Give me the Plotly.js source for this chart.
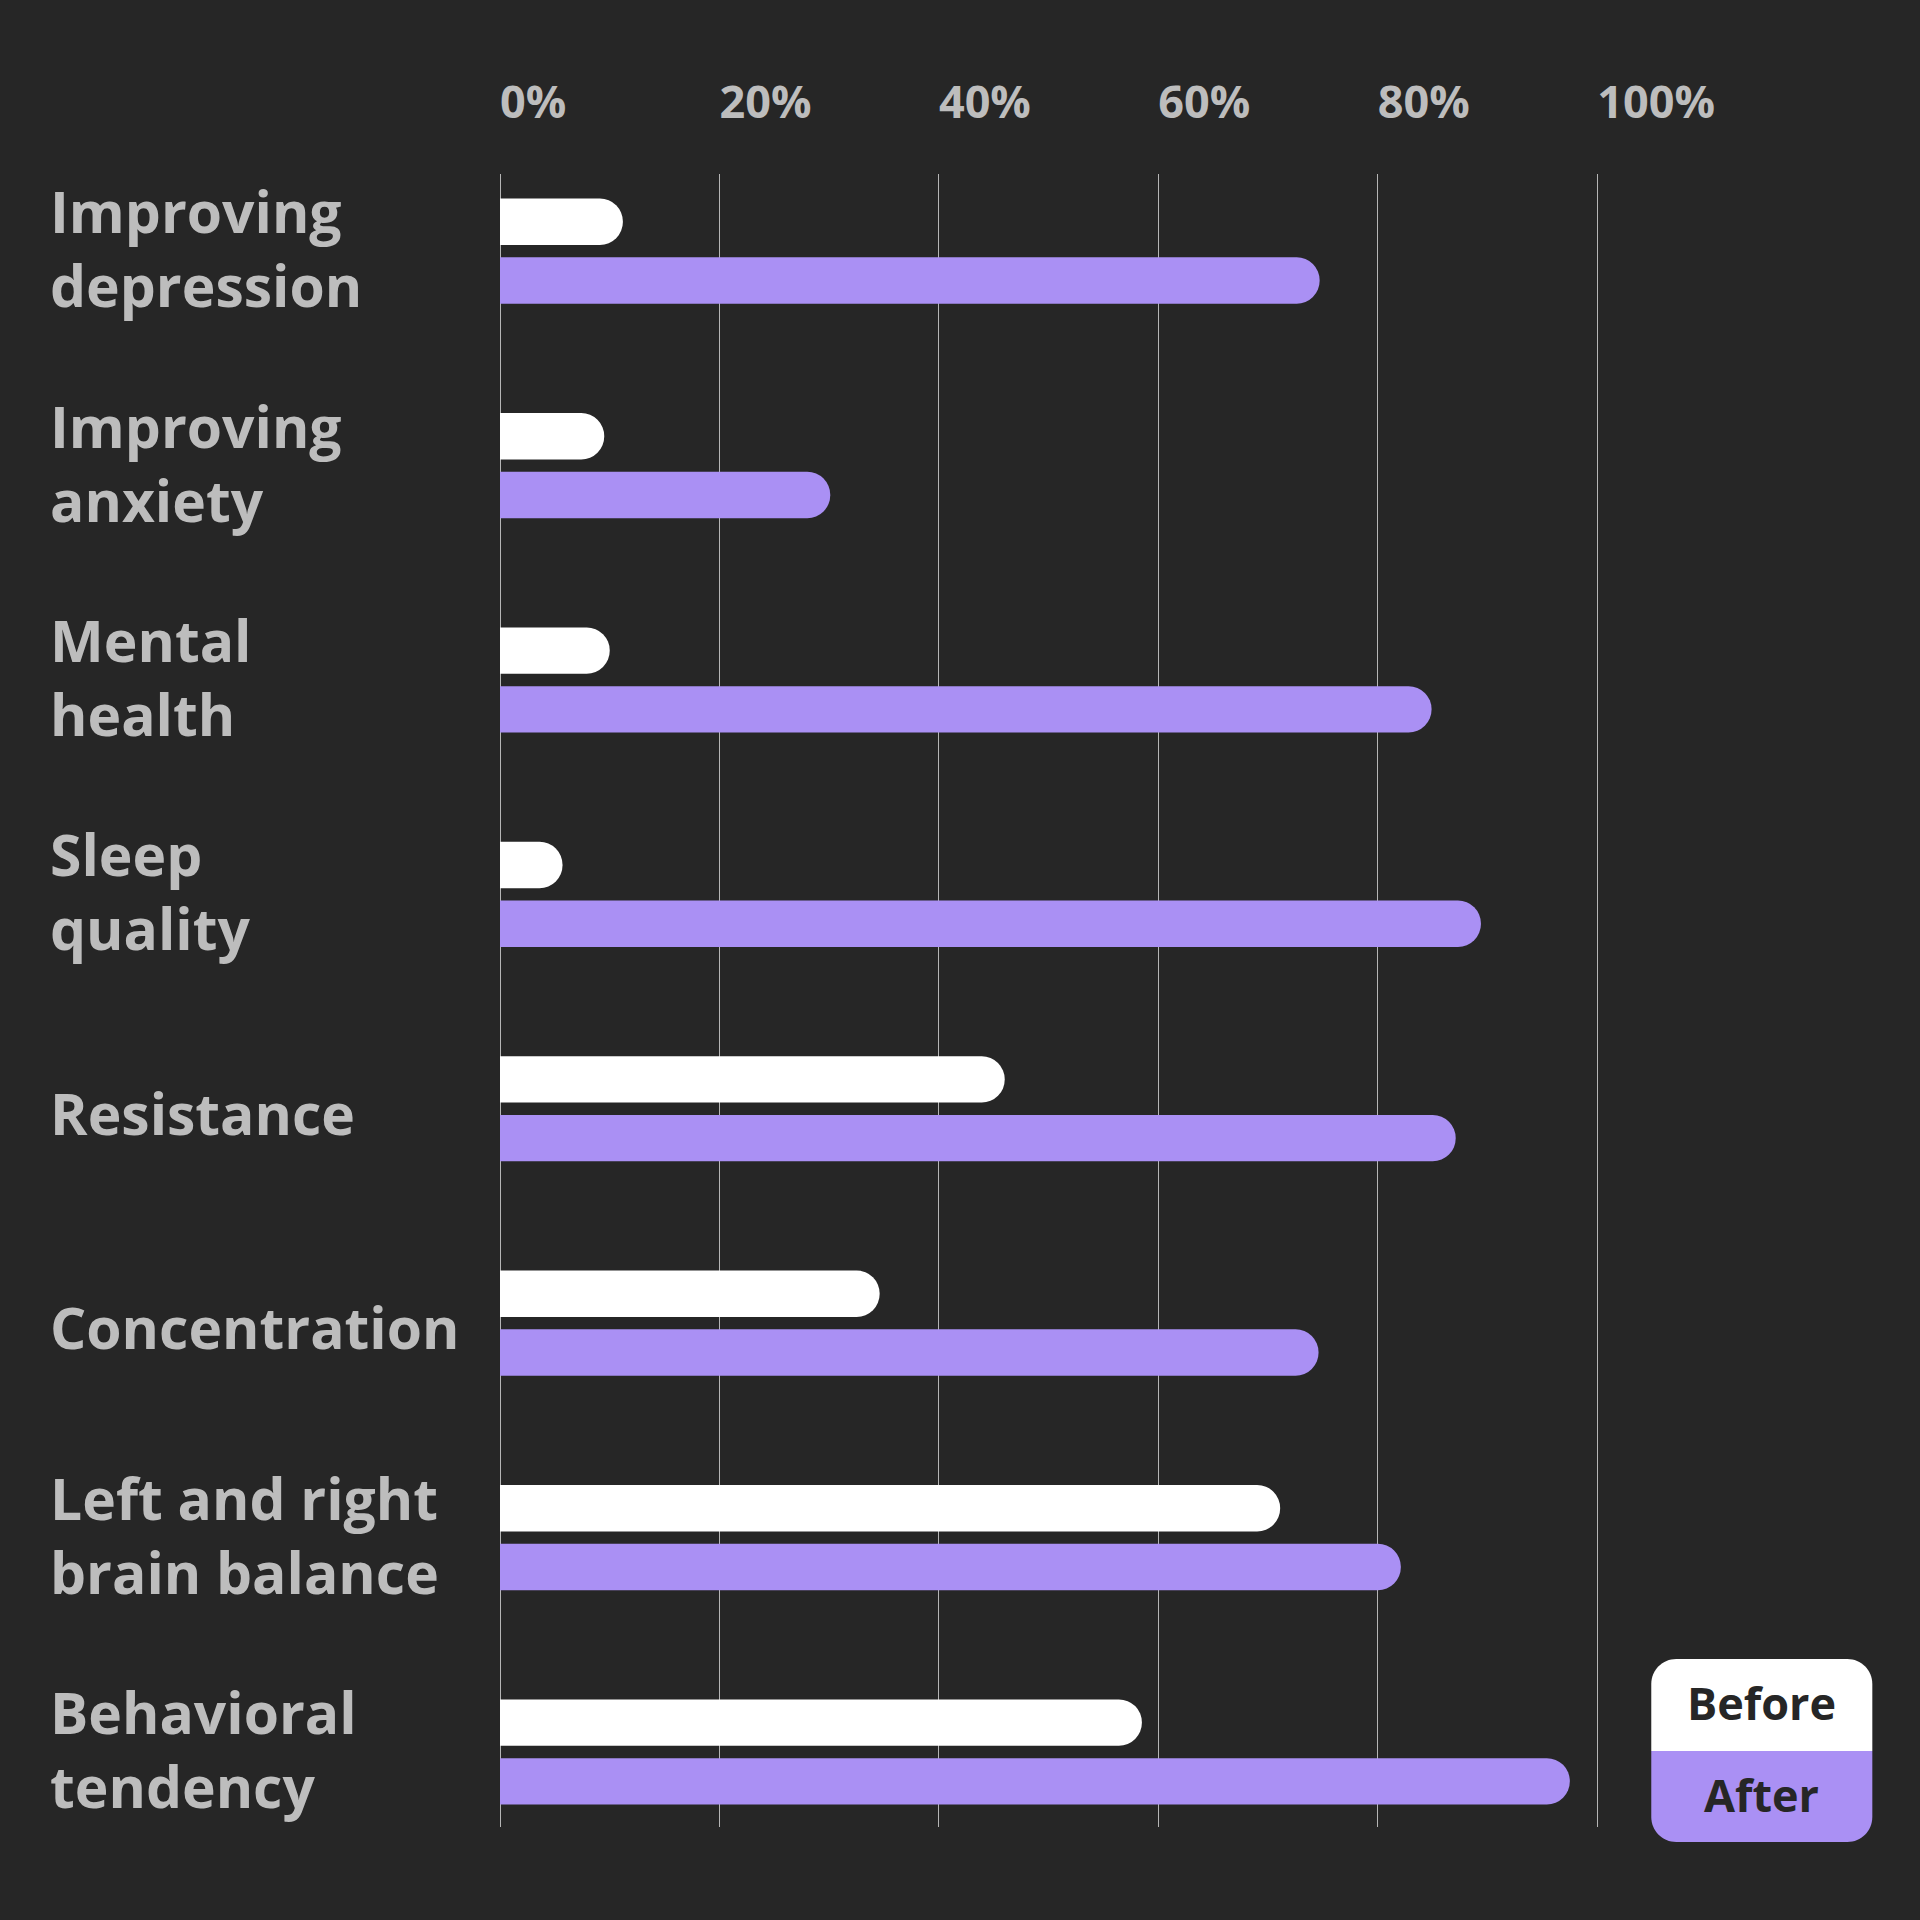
<!DOCTYPE html>
<html>
<head>
<meta charset="utf-8">
<script src="https://cdn.plot.ly/plotly-3.0.1.min.js"></script>
<style>
  html, body { margin: 0; padding: 0; background: #262626; }
  #chart { width: 1920px; height: 1920px; }
</style>
</head>
<body>
<div id="chart"></div>
<script>
// ---- data ----
const categories = [
  'Improving depression',
  'Improving anxiety',
  'Mental health',
  'Sleep quality',
  'Resistance',
  'Concentration',
  'Left and right brain balance',
  'Behavioral tendency'
];
const categoryLabels = [
  'Improving<br>depression',
  'Improving<br>anxiety',
  'Mental<br>health',
  'Sleep<br>quality',
  'Resistance',
  'Concentration',
  'Left and right<br>brain balance',
  'Behavioral<br>tendency'
];
const beforeValues = [11.2, 9.5, 10.0, 5.7, 46.0, 34.6, 71.1, 58.5];
const afterValues  = [74.7, 30.1, 84.9, 89.4, 87.1, 74.6, 82.1, 97.5];
const tickValues = [0, 20, 40, 60, 80, 100];
const tickLabels = ['0%', '20%', '40%', '60%', '80%', '100%'];
const seriesNames = ['Before', 'After'];

// ---- style ----
const BG = '#262626';
const WHITE = '#ffffff';
const PURPLE = '#aa90f4';
const LABEL = '#bdbdbd';
const GRID = '#b5b5b5';
const FONT = '"Open Sans", "Noto Sans", sans-serif';

const W = 1920, H = 1920;
const XMAX = 100.25;
const M = { l: 500, r: 0, t: 174, b: 93 };
// 100% gridline sits at x = 1597 px
const PW = (1597 - M.l) * XMAX / 100;
M.r = W - M.l - PW;
const PH = H - M.t - M.b;
const px2x = px => (px - M.l) / PW;
const px2y = py => 1 - (py - M.t) / PH;

const traces = [
  {
    type: 'bar', orientation: 'h', name: seriesNames[0],
    y: categories, x: beforeValues,
    marker: { color: WHITE, cornerradius: '50%', line: { width: 0 } },
    hoverinfo: 'skip', showlegend: false
  },
  {
    type: 'bar', orientation: 'h', name: seriesNames[1],
    y: categories, x: afterValues,
    marker: { color: PURPLE, cornerradius: '50%', line: { width: 0 } },
    hoverinfo: 'skip', showlegend: false
  }
];

// category labels (left aligned)
const annotations = categories.map((c, i) => ({
  xref: 'paper', yref: 'y',
  x: px2x(48), y: c,
  xanchor: 'left', yanchor: 'middle',
  align: 'left',
  yshift: categoryLabels[i].includes('<br>') ? 3 : -4,
  text: categoryLabels[i],
  showarrow: false,
  font: { family: FONT, size: 57, color: LABEL, weight: 700 }
}));

// custom legend
const LX0 = 1651, LX1 = 1872, LY0 = 1659, LYM = 1751, LY1 = 1842, R = 25;
function roundedPath(x0, x1, y0, y1, topRound, bottomRound) {
  const k = 0.5523 * R;
  let p = '';
  const X = px2x, Y = px2y;
  if (topRound) {
    p += `M ${X(x0)},${Y(y0 + R)} C ${X(x0)},${Y(y0 + R - k)} ${X(x0 + R - k)},${Y(y0)} ${X(x0 + R)},${Y(y0)}`;
    p += ` L ${X(x1 - R)},${Y(y0)} C ${X(x1 - R + k)},${Y(y0)} ${X(x1)},${Y(y0 + R - k)} ${X(x1)},${Y(y0 + R)}`;
  } else {
    p += `M ${X(x0)},${Y(y0)} L ${X(x1)},${Y(y0)}`;
  }
  if (bottomRound) {
    p += ` L ${X(x1)},${Y(y1 - R)} C ${X(x1)},${Y(y1 - R + k)} ${X(x1 - R + k)},${Y(y1)} ${X(x1 - R)},${Y(y1)}`;
    p += ` L ${X(x0 + R)},${Y(y1)} C ${X(x0 + R - k)},${Y(y1)} ${X(x0)},${Y(y1 - R + k)} ${X(x0)},${Y(y1 - R)}`;
  } else {
    p += ` L ${X(x1)},${Y(y1)} L ${X(x0)},${Y(y1)}`;
  }
  return p + ' Z';
}
const shapes = [
  { type: 'path', xref: 'paper', yref: 'paper', path: roundedPath(LX0, LX1, LY0, LYM, true, false),
    fillcolor: WHITE, line: { width: 0 }, layer: 'above' },
  { type: 'path', xref: 'paper', yref: 'paper', path: roundedPath(LX0, LX1, LYM, LY1, false, true),
    fillcolor: PURPLE, line: { width: 0 }, layer: 'above' }
];
annotations.push(
  { xref: 'paper', yref: 'paper', x: px2x((LX0 + LX1) / 2), y: px2y((LY0 + LYM) / 2),
    xanchor: 'center', yanchor: 'middle', showarrow: false, text: seriesNames[0], yshift: 3,
    font: { family: FONT, size: 45, color: BG, weight: 700 } },
  { xref: 'paper', yref: 'paper', x: px2x((LX0 + LX1) / 2), y: px2y((LYM + LY1) / 2),
    xanchor: 'center', yanchor: 'middle', showarrow: false, text: seriesNames[1], yshift: 2,
    font: { family: FONT, size: 45, color: BG, weight: 700 } }
);

const layout = {
  width: W, height: H,
  paper_bgcolor: BG, plot_bgcolor: BG,
  margin: M,
  barmode: 'group',
  bargap: 0.452,
  bargroupgap: 0.21,
  showlegend: false,
  xaxis: {
    side: 'top',
    range: [0, XMAX],
    tickvals: tickValues,
    ticktext: tickLabels,
    ticklabelposition: 'outside right',
    ticklabelstandoff: 46,
    ticks: '',
    showgrid: true,
    gridcolor: GRID,
    gridwidth: 1,
    zeroline: true,
    zerolinecolor: GRID,
    zerolinewidth: 1,
    showline: false,
    tickfont: { family: FONT, size: 45, color: LABEL, weight: 700 },
    fixedrange: true
  },
  yaxis: {
    type: 'category',
    categoryorder: 'array',
    categoryarray: categories,
    range: [7.35, -0.36],
    showticklabels: false,
    ticks: '',
    showgrid: false,
    zeroline: false,
    showline: false,
    fixedrange: true
  },
  shapes: shapes,
  annotations: annotations
};

Plotly.newPlot('chart', traces, layout, { displayModeBar: false, staticPlot: true });
</script>
</body>
</html>
